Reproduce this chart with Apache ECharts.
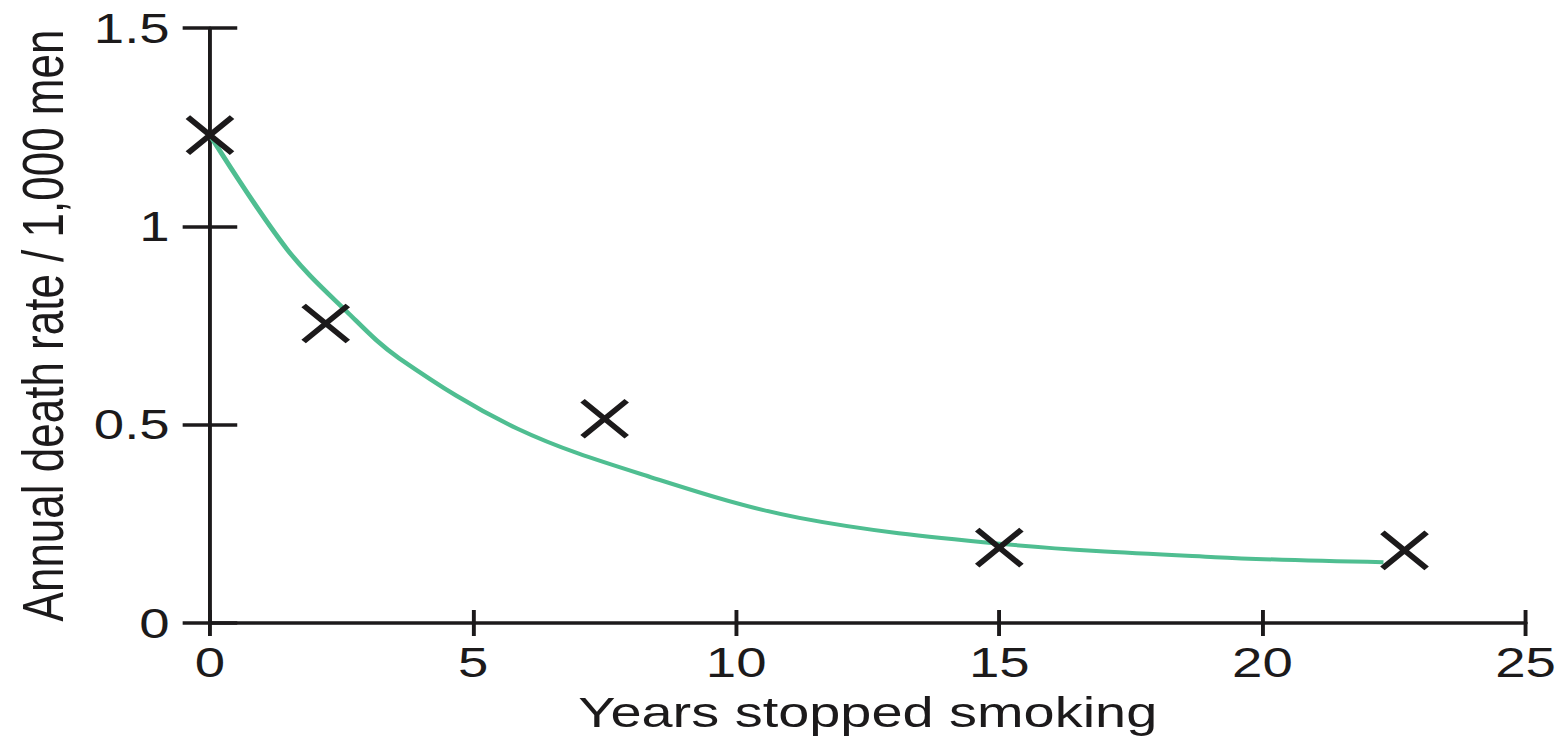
<!DOCTYPE html>
<html>
<head>
<meta charset="utf-8">
<script src="https://cdn.jsdelivr.net/npm/echarts@6/dist/echarts.min.js"></script>
<style>
  html, body { margin: 0; padding: 0; background: #ffffff; overflow: hidden; }
  /* the figure uses a horizontally widened typeface; the chart is drawn narrower and stretched */
  #chart { width: 1201.5px; height: 739px; transform: scaleX(1.3); transform-origin: 0 0; }
</style>
</head>
<body>
<div id="chart"></div>
<script>
// Measured death rates (x marks)
const measuredYears = [0, 2.2, 7.5, 15, 22.7];
const measuredRates = [1.23, 0.755, 0.515, 0.19, 0.183];

// Fitted trend curve
const curveYears = [0, 1.46, 2.6, 3.6, 5.84, 8.37, 11.2, 15, 19.1, 22.3];
const curveRates = [1.23, 0.943, 0.785, 0.667, 0.49, 0.368, 0.265, 0.2, 0.166, 0.153];

// Axis ticks
const xTickLabels = ['0', '5', '10', '15', '20', '25'];
const yTickLabels = ['0', '0.5', '1', '1.5'];

const xAxisTitle = 'Years stopped smoking';
const yAxisTitle = 'Annual death rate / 1,000 men';

const ink = '#1c1a1b';
const green = '#4fbe91';
const font = '"Liberation Sans", Arial, Helvetica, sans-serif';

const xMin = Number(xTickLabels[0]), xMax = Number(xTickLabels[xTickLabels.length - 1]);
const xStep = Number(xTickLabels[1]) - xMin;
const yMin = Number(yTickLabels[0]), yMax = Number(yTickLabels[yTickLabels.length - 1]);
const yStep = Number(yTickLabels[1]) - yMin;

const chart = echarts.init(document.getElementById('chart'), null, { renderer: 'svg' });

const xBase = {
  type: 'value', min: xMin, max: xMax, interval: xStep,
  splitLine: { show: false }
};
const yBase = {
  type: 'value', min: yMin, max: yMax, interval: yStep,
  splitLine: { show: false }
};

chart.setOption({
  animation: false,
  backgroundColor: '#ffffff',
  grid: { left: 161.5, right: 28.5, top: 28, bottom: 113 },
  xAxis: [
    Object.assign({}, xBase, {
      position: 'bottom',
      axisLine: { show: true, lineStyle: { color: ink, width: 3.5 } },
      axisTick: { show: true, inside: false, length: 13, lineStyle: { color: ink, width: 3 } },
      axisLabel: {
        show: true, margin: 18, color: ink, fontSize: 42, fontFamily: font,
        formatter: (v) => xTickLabels[Math.round((v - xMin) / xStep)]
      },
      name: xAxisTitle,
      nameLocation: 'middle',
      nameGap: 68,
      nameTextStyle: { color: ink, fontSize: 43, fontFamily: font }
    }),
    Object.assign({}, xBase, {
      position: 'bottom',
      axisLine: { show: false },
      axisTick: { show: true, inside: true, length: 13, lineStyle: { color: ink, width: 3 } },
      axisLabel: { show: false }
    })
  ],
  yAxis: [
    Object.assign({}, yBase, {
      position: 'left',
      axisLine: { show: true, lineStyle: { color: ink, width: 3 } },
      axisTick: { show: true, inside: false, length: 21, lineStyle: { color: ink, width: 3.5 } },
      axisLabel: {
        show: true, margin: 31, color: ink, fontSize: 42, fontFamily: font,
        formatter: (v) => yTickLabels[Math.round((v - yMin) / yStep)]
      },
      name: yAxisTitle,
      nameLocation: 'middle',
      nameGap: 106,
      nameRotate: 90,
      nameTextStyle: { color: ink, fontSize: 44, fontFamily: font }
    }),
    Object.assign({}, yBase, {
      position: 'left',
      axisLine: { show: false },
      axisTick: { show: true, inside: true, length: 21, lineStyle: { color: ink, width: 3.5 } },
      axisLabel: { show: false }
    })
  ],
  series: [
    {
      name: 'Trend',
      type: 'line',
      xAxisIndex: 0, yAxisIndex: 0,
      data: curveYears.map((x, i) => [x, curveRates[i]]),
      smooth: 0.35,
      showSymbol: false,
      symbol: 'none',
      lineStyle: { color: green, width: 4 },
      emphasis: { disabled: true },
      z: 2
    },
    {
      name: 'Measured',
      type: 'scatter',
      xAxisIndex: 0, yAxisIndex: 0,
      data: measuredYears.map((x, i) => [x, measuredRates[i]]),
      symbol: 'path://M0,0 L10,10 M10,0 L0,10',
      symbolSize: [34, 36],
      itemStyle: { color: 'rgba(0,0,0,0)', borderColor: ink, borderWidth: 5, opacity: 1 },
      emphasis: { disabled: true },
      z: 3
    }
  ]
});
</script>
</body>
</html>
